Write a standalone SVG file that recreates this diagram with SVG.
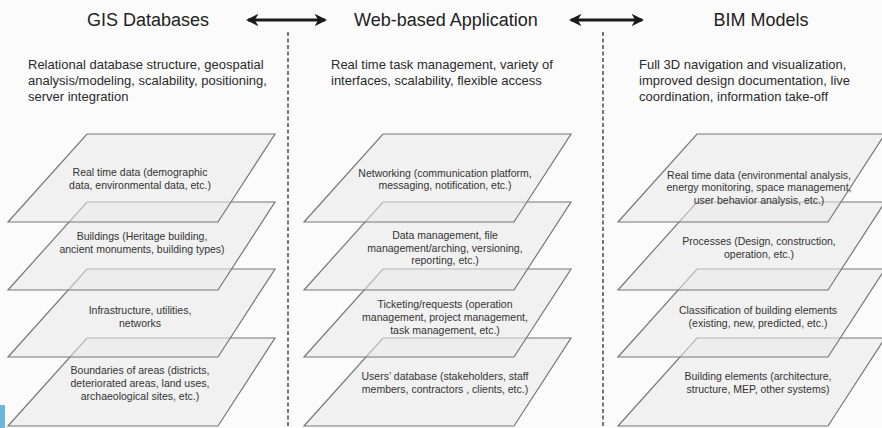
<svg xmlns="http://www.w3.org/2000/svg" width="882" height="428" viewBox="0 0 882 428">
  <defs>
    <style>
      .title { font-family: "Liberation Sans", Arial, sans-serif; font-size: 18px; fill: #222; text-anchor: middle; }
      .desc { font-family: "Liberation Sans", Arial, sans-serif; font-size: 13px; fill: #2a2a2a; }
      .lbl { font-family: "Liberation Sans", Arial, sans-serif; font-size: 10.5px; fill: #333; text-anchor: middle; }
      .plane { fill: #e9e9e9; fill-opacity: 0.55; stroke: #777; stroke-width: 1.2; stroke-linejoin: miter; }
      .sep { stroke: #555; stroke-width: 1.6; stroke-dasharray: 4 2.5; fill: none; }
      .arrow { stroke: #1a1a1a; stroke-width: 3; fill: none; }
    </style>
    <marker id="head" viewBox="0 0 12 12" refX="10" refY="6" markerWidth="4.2" markerHeight="4.2" orient="auto-start-reverse" markerUnits="strokeWidth">
      <path d="M0,0 L12,6 L0,12 L3.5,6 Z" fill="#1a1a1a"/>
    </marker>
  </defs>

  <rect x="0" y="0" width="882" height="428" fill="#fbfbfb"/>
  <rect x="0" y="405" width="5" height="23" fill="#6fb6de"/>

  <g id="separators">
    <line class="sep" x1="288" y1="32" x2="288" y2="428"/>
    <line class="sep" x1="603" y1="32" x2="603" y2="428"/>
  </g>

  <g id="connectors">
    <line class="arrow" x1="248" y1="20" x2="325" y2="20" marker-start="url(#head)" marker-end="url(#head)"/>
    <line class="arrow" x1="571" y1="20" x2="642" y2="20" marker-start="url(#head)" marker-end="url(#head)"/>
  </g>

  <g id="gis-header">
    <text class="title" x="148" y="26">GIS Databases</text>
    <text class="desc" x="28" y="69">Relational database structure, geospatial</text>
    <text class="desc" x="28" y="85">analysis/modeling, scalability, positioning,</text>
    <text class="desc" x="28" y="101">server integration</text>
  </g>
  <g id="web-header">
    <text class="title" x="446" y="26">Web-based Application</text>
    <text class="desc" x="331" y="69">Real time task management, variety of</text>
    <text class="desc" x="331" y="85">interfaces, scalability, flexible access</text>
  </g>
  <g id="bim-header">
    <text class="title" x="761" y="26">BIM Models</text>
    <text class="desc" x="639" y="69">Full 3D navigation and visualization,</text>
    <text class="desc" x="639" y="85">improved design documentation, live</text>
    <text class="desc" x="639" y="101">coordination, information take-off</text>
  </g>

  <!-- GIS column -->
  <g id="gis-boundaries">
    <polygon class="plane" points="87,338 275,338 218,426 8,426"/>
    <text class="lbl" x="140" y="374">Boundaries of areas (districts,</text>
    <text class="lbl" x="140" y="387">deteriorated areas, land uses,</text>
    <text class="lbl" x="140" y="400">archaeological sites, etc.)</text>
  </g>
  <g id="gis-infrastructure">
    <polygon class="plane" points="87,269 275,269 218,357 8,357"/>
    <text class="lbl" x="140" y="314">Infrastructure, utilities,</text>
    <text class="lbl" x="140" y="327">networks</text>
  </g>
  <g id="gis-buildings">
    <polygon class="plane" points="87,202 275,202 218,290 8,290"/>
    <text class="lbl" x="142" y="240">Buildings (Heritage building,</text>
    <text class="lbl" x="142" y="253">ancient monuments, building types)</text>
  </g>
  <g id="gis-realtime">
    <polygon class="plane" points="87,134 275,134 218,222 8,222"/>
    <text class="lbl" x="140" y="176">Real time data (demographic</text>
    <text class="lbl" x="140" y="189">data, environmental data, etc.)</text>
  </g>

  <!-- Web column -->
  <g id="web-users">
    <polygon class="plane" points="383,338 571,338 514,426 304,426"/>
    <text class="lbl" x="445" y="380">Users’ database (stakeholders, staff</text>
    <text class="lbl" x="445" y="393">members, contractors , clients, etc.)</text>
  </g>
  <g id="web-ticketing">
    <polygon class="plane" points="383,269 571,269 514,357 304,357"/>
    <text class="lbl" x="445" y="308">Ticketing/requests (operation</text>
    <text class="lbl" x="445" y="321">management, project management,</text>
    <text class="lbl" x="445" y="334">task management, etc.)</text>
  </g>
  <g id="web-data">
    <polygon class="plane" points="383,202 571,202 514,290 304,290"/>
    <text class="lbl" x="445" y="239">Data management, file</text>
    <text class="lbl" x="445" y="251.5">management/arching, versioning,</text>
    <text class="lbl" x="445" y="264">reporting, etc.)</text>
  </g>
  <g id="web-networking">
    <polygon class="plane" points="383,134 571,134 514,222 304,222"/>
    <text class="lbl" x="445" y="177">Networking (communication platform,</text>
    <text class="lbl" x="445" y="189">messaging, notification, etc.)</text>
  </g>

  <!-- BIM column -->
  <g id="bim-elements">
    <polygon class="plane" points="697,338 885,338 828,426 618,426"/>
    <text class="lbl" x="758" y="380">Building elements (architecture,</text>
    <text class="lbl" x="758" y="393">structure, MEP, other systems)</text>
  </g>
  <g id="bim-classification">
    <polygon class="plane" points="697,269 885,269 828,357 618,357"/>
    <text class="lbl" x="758" y="314">Classification of building elements</text>
    <text class="lbl" x="758" y="327">(existing, new, predicted, etc.)</text>
  </g>
  <g id="bim-processes">
    <polygon class="plane" points="697,202 885,202 828,290 618,290"/>
    <text class="lbl" x="759" y="245">Processes (Design, construction,</text>
    <text class="lbl" x="759" y="258">operation, etc.)</text>
  </g>
  <g id="bim-realtime">
    <polygon class="plane" points="697,134 885,134 828,222 618,222"/>
    <text class="lbl" x="759" y="178.5">Real time data (environmental analysis,</text>
    <text class="lbl" x="759" y="191">energy monitoring, space management,</text>
    <text class="lbl" x="759" y="203.5">user behavior analysis, etc.)</text>
  </g>
</svg>
